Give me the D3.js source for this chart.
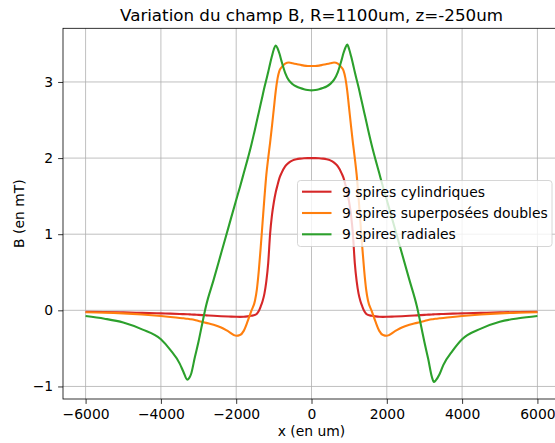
<!DOCTYPE html>
<html><head><meta charset="utf-8">
<script src="https://cdn.jsdelivr.net/npm/d3@7"></script>
<style>
html,body{margin:0;padding:0;background:#fff;overflow:hidden}
svg{display:block;font-family:"DejaVu Sans",sans-serif}
</style></head>
<body>
<svg id="chart" width="555" height="443"></svg>
<script>
// ---- data ----
const xHalf = [-6000,-5500,-5000,-4500,-4000,-3750,-3500,-3400,-3300,-3250,-3200,-3100,-3000,-2900,-2800,-2600,-2400,-2200,-2000,-1900,-1800,-1700,-1600,-1500,-1450,-1400,-1350,-1300,-1250,-1200,-1150,-1100,-1050,-1000,-950,-900,-850,-800,-700,-600,-500,-400,-300,-200,-100];
const xValues = xHalf.concat([0], xHalf.slice().reverse().map(v => -v));

const redLeft = [-0.02,-0.022,-0.027,-0.033,-0.04,-0.044,-0.048,-0.05,-0.052,-0.053,-0.054,-0.057,-0.06,-0.063,-0.066,-0.072,-0.077,-0.081,-0.085,-0.086,-0.085,-0.08,-0.072,-0.06,-0.045,-0.01,0.05,0.12,0.22,0.38,0.62,1.0,1.25,1.42,1.55,1.65,1.74,1.8,1.89,1.94,1.97,1.985,1.993,1.998,2.0];
const redCenter = 2.0;
const orangeLeft = [-0.025,-0.03,-0.04,-0.055,-0.075,-0.087,-0.1,-0.105,-0.11,-0.113,-0.117,-0.127,-0.14,-0.152,-0.165,-0.19,-0.225,-0.28,-0.335,-0.325,-0.27,-0.15,-0.01,0.13,0.28,0.52,0.82,1.15,1.48,1.78,2.0,2.2,2.42,2.65,2.88,3.05,3.15,3.19,3.24,3.255,3.245,3.235,3.225,3.215,3.21];
const orangeCenter = 3.21;
const greenLeft = [-0.075,-0.11,-0.16,-0.25,-0.38,-0.52,-0.70,-0.81,-0.91,-0.89,-0.84,-0.62,-0.41,-0.17,0.06,0.4,0.75,1.1,1.45,1.62,1.8,1.98,2.17,2.38,2.49,2.6,2.71,2.82,2.93,3.03,3.13,3.24,3.34,3.43,3.48,3.44,3.37,3.28,3.12,3.02,2.97,2.94,2.92,2.905,2.895];
const greenCenter = 2.89;
// right-hand side where the picture differs from the mirror
const greenRight = [-0.075,-0.105,-0.15,-0.24,-0.38,-0.53,-0.72,-0.84,-0.92,-0.94,-0.88,-0.64,-0.42,-0.18,0.05,0.4,0.75,1.1,1.45,1.62,1.8,1.98,2.17,2.38,2.49,2.6,2.71,2.82,2.93,3.03,3.13,3.24,3.34,3.43,3.49,3.45,3.38,3.29,3.13,3.03,2.975,2.94,2.92,2.905,2.895];

const redValues = redLeft.concat([redCenter], redLeft.slice().reverse());
const orangeValues = orangeLeft.concat([orangeCenter], orangeLeft.slice().reverse());
const greenValues = greenLeft.concat([greenCenter], greenRight.slice().reverse());

const seriesNames = ["9 spires cylindriques","9 spires superposées doubles","9 spires radiales"];
const seriesColors = ["#d62728","#ff7f0e","#2ca02c"];
const xTicks = [-6000,-4000,-2000,0,2000,4000,6000];
const yTicks = [-1,0,1,2,3];
const titleText = "Variation du champ B, R=1100um, z=-250um";
const xLabel = "x (en um)";
const yLabel = "B (en mT)";

// ---- layout ----
const svg = d3.select("#chart");
const L = 63, R = 560, T = 28.3, B = 399;
const x = d3.scaleLinear().domain([-6600, 6600]).range([L, R]);
const y = d3.scaleLinear().domain([-1.165, 3.705]).range([B, T]);
const fmt = d => (d < 0 ? "\u2212" + Math.abs(d) : String(d));

const clipId = "plotclip";
svg.append("defs").append("clipPath").attr("id", clipId)
  .append("rect").attr("x", L).attr("y", T).attr("width", R - L).attr("height", B - T);

// grid
const grid = svg.append("g");
grid.selectAll("line.gx").data(xTicks).join("line")
  .attr("x1", d => x(d)).attr("x2", d => x(d)).attr("y1", T).attr("y2", B)
  .attr("stroke", "#b0b0b0").attr("stroke-width", 0.8);
grid.selectAll("line.gy").data(yTicks).join("line")
  .attr("x1", L).attr("x2", R).attr("y1", d => y(d)).attr("y2", d => y(d))
  .attr("stroke", "#b0b0b0").attr("stroke-width", 0.8);

// lines
const seriesData = [redValues, orangeValues, greenValues];
const line = d3.line().x((d, i) => x(xValues[i])).y(d => y(d)).curve(d3.curveMonotoneX);
const plot = svg.append("g").attr("clip-path", `url(#${clipId})`);
seriesData.forEach((vals, k) => {
  plot.append("path").datum(vals).attr("d", line)
    .attr("fill", "none").attr("stroke", seriesColors[k]).attr("stroke-width", 2.1)
    .attr("stroke-linejoin", "round").attr("stroke-linecap", "butt");
});

// axes
const xAxis = d3.axisBottom(x).tickValues(xTicks).tickFormat(fmt).tickSizeOuter(0).tickSize(4.9).tickPadding(4.9);
const yAxis = d3.axisLeft(y).tickValues(yTicks).tickFormat(fmt).tickSizeOuter(0).tickSize(4.9).tickPadding(4.9);
const gx = svg.append("g").attr("transform", `translate(0,${B})`).call(xAxis);
const gy = svg.append("g").attr("transform", `translate(${L},0)`).call(yAxis);
[gx, gy].forEach(g => {
  g.select(".domain").remove();
  g.selectAll(".tick line").attr("stroke", "#000").attr("stroke-width", 0.8);
  g.selectAll(".tick text").attr("fill", "#000").style("font-size", "13.9px").style("font-family", "DejaVu Sans");
});
// spines
svg.append("rect").attr("x", L).attr("y", T).attr("width", R - L).attr("height", B - T)
  .attr("fill", "none").attr("stroke", "#000").attr("stroke-width", 0.8);

// legend
const lg = svg.append("g");
lg.append("rect").attr("x", 297.5).attr("y", 180.5).attr("width", 254.5).attr("height", 66)
  .attr("rx", 3).attr("fill", "#fff").attr("fill-opacity", 0.8).attr("stroke", "#cccccc").attr("stroke-width", 0.8);
seriesNames.forEach((name, k) => {
  const yy = 191.7 + k * 21.3;
  lg.append("line").attr("x1", 302).attr("x2", 331.5).attr("y1", yy).attr("y2", yy)
    .attr("stroke", seriesColors[k]).attr("stroke-width", 2.1);
  lg.append("text").attr("x", 342).attr("y", yy).attr("dy", "0.36em")
    .style("font-size", "13.9px").text(name);
});

// texts
svg.append("text").attr("x", (L + R) / 2).attr("y", 21).attr("text-anchor", "middle")
  .style("font-size", "16.7px").text(titleText);
svg.append("text").attr("x", (L + R) / 2).attr("y", 436).attr("text-anchor", "middle")
  .style("font-size", "13.9px").text(xLabel);
svg.append("text").attr("transform", `translate(24,${(T + B) / 2}) rotate(-90)`).attr("text-anchor", "middle")
  .style("font-size", "13.9px").text(yLabel);
</script>
</body></html>
